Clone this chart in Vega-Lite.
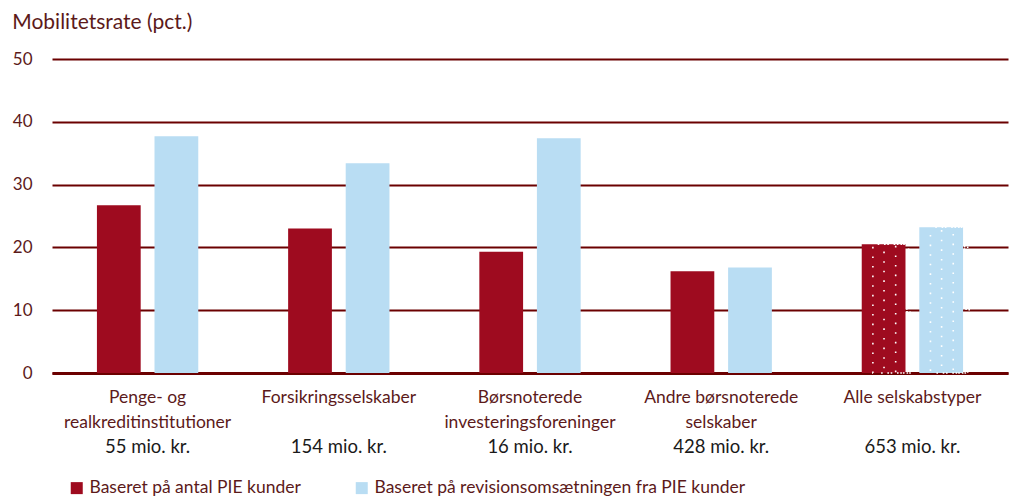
{
  "$schema": "https://vega.github.io/schema/vega-lite/v6.json",
  "width": 956,
  "height": 314,
  "autosize": {"type": "none"},
  "padding": {"left": 52, "top": 59, "right": 8, "bottom": 127},
  "background": "white",
  "title": {
    "text": "Mobilitetsrate (pct.)",
    "anchor": "start",
    "frame": "bounds",
    "fontSize": 21,
    "font": "Lato",
    "fontWeight": "normal",
    "color": "#5C1A1A",
    "offset": 17
  },
  "config": {
    "font": "Lato",
    "view": {"stroke": null}
  },
  "data": {
    "values": [
      {"kategori": "Penge- og\nrealkreditinstitutioner", "beloeb": "55 mio. kr.", "serie": "Baseret på antal PIE kunder", "vaerdi": 26.7},
      {"kategori": "Penge- og\nrealkreditinstitutioner", "beloeb": "55 mio. kr.", "serie": "Baseret på revisionsomsætningen fra PIE kunder", "vaerdi": 37.7},
      {"kategori": "Forsikringsselskaber", "beloeb": "154 mio. kr.", "serie": "Baseret på antal PIE kunder", "vaerdi": 23.0},
      {"kategori": "Forsikringsselskaber", "beloeb": "154 mio. kr.", "serie": "Baseret på revisionsomsætningen fra PIE kunder", "vaerdi": 33.4},
      {"kategori": "Børsnoterede\ninvesteringsforeninger", "beloeb": "16 mio. kr.", "serie": "Baseret på antal PIE kunder", "vaerdi": 19.3},
      {"kategori": "Børsnoterede\ninvesteringsforeninger", "beloeb": "16 mio. kr.", "serie": "Baseret på revisionsomsætningen fra PIE kunder", "vaerdi": 37.4},
      {"kategori": "Andre børsnoterede\nselskaber", "beloeb": "428 mio. kr.", "serie": "Baseret på antal PIE kunder", "vaerdi": 16.2},
      {"kategori": "Andre børsnoterede\nselskaber", "beloeb": "428 mio. kr.", "serie": "Baseret på revisionsomsætningen fra PIE kunder", "vaerdi": 16.8},
      {"kategori": "Alle selskabstyper", "beloeb": "653 mio. kr.", "serie": "Baseret på antal PIE kunder", "vaerdi": 20.5},
      {"kategori": "Alle selskabstyper", "beloeb": "653 mio. kr.", "serie": "Baseret på revisionsomsætningen fra PIE kunder", "vaerdi": 23.2}
    ]
  },
  "encoding": {
    "x": {
      "field": "kategori",
      "type": "nominal",
      "sort": null,
      "title": null,
      "scale": {"paddingInner": 0.47, "paddingOuter": 0.235},
      "axis": {
        "labelExpr": "split(datum.label, '\\n')",
        "labelAngle": 0,
        "labelFontSize": 17.5,
        "labelLineHeight": 25,
        "labelColor": "#5C1A1A",
        "labelPadding": 15,
        "labelLimit": 300,
        "labelBaseline": "top",
        "ticks": false,
        "domainColor": "#6B0000",
        "domainWidth": 3,
        "grid": false
      }
    }
  },
  "layer": [
    {
      "mark": {"type": "bar"},
      "encoding": {
        "xOffset": {"field": "serie", "sort": null, "scale": {"paddingInner": 0.24}},
        "y": {
          "field": "vaerdi",
          "type": "quantitative",
          "title": null,
          "scale": {"domain": [0, 50]},
          "axis": {
            "values": [0, 10, 20, 30, 40, 50],
            "grid": true,
            "gridColor": "#6B0000",
            "gridWidth": 2,
            "domain": false,
            "ticks": false,
            "labelPadding": 20,
            "labelFontSize": 17,
            "labelColor": "#5C1A1A"
          }
        },
        "color": {
          "field": "serie",
          "type": "nominal",
          "sort": null,
          "scale": {"range": ["#9E0B1F", "#B9DDF3"]},
          "legend": {
            "orient": "none",
            "legendX": 16,
            "legendY": 420,
            "direction": "horizontal",
            "title": null,
            "symbolType": "square",
            "symbolSize": 144,
            "symbolStrokeWidth": 0,
            "labelFontSize": 17.5,
            "labelColor": "#5C1A1A",
            "labelOffset": 4,
            "columnPadding": 52,
            "labelLimit": 500
          }
        }
      }
    },
    {
      "transform": [{"filter": "datum.kategori == 'Alle selskabstyper'"}],
      "mark": {"type": "bar", "filled": false, "stroke": "white", "strokeWidth": 1.6, "strokeDash": [1.6, 8], "width": {"band": 0.11}},
      "encoding": {
        "xOffset": {"field": "serie", "sort": null},
        "y": {"field": "vaerdi", "type": "quantitative"}
      }
    },
    {
      "transform": [{"filter": "datum.kategori == 'Alle selskabstyper'"}],
      "mark": {"type": "bar", "filled": false, "stroke": "white", "strokeWidth": 1.6, "strokeDash": [1.6, 8], "strokeDashOffset": 4.8, "width": {"band": 0.33}},
      "encoding": {
        "xOffset": {"field": "serie", "sort": null},
        "y": {"field": "vaerdi", "type": "quantitative"}
      }
    },
    {
      "transform": [{"filter": "datum.kategori == 'Alle selskabstyper'"}],
      "mark": {"type": "bar", "filled": false, "stroke": "white", "strokeWidth": 1.6, "strokeDash": [1.6, 8], "width": {"band": 0.56}},
      "encoding": {
        "xOffset": {"field": "serie", "sort": null},
        "y": {"field": "vaerdi", "type": "quantitative"}
      }
    },
    {
      "transform": [{"filter": "datum.kategori == 'Alle selskabstyper'"}],
      "mark": {"type": "bar", "filled": false, "stroke": "white", "strokeWidth": 1.6, "strokeDash": [1.6, 8], "strokeDashOffset": 4.8, "width": {"band": 0.78}},
      "encoding": {
        "xOffset": {"field": "serie", "sort": null},
        "y": {"field": "vaerdi", "type": "quantitative"}
      }
    },
    {
      "transform": [{"filter": "datum.serie == 'Baseret på antal PIE kunder'"}],
      "mark": {"type": "text", "fontSize": 18.5, "color": "#1A1A1A", "baseline": "middle"},
      "encoding": {
        "y": {"datum": -11.8, "type": "quantitative"},
        "text": {"field": "beloeb"}
      }
    }
  ]
}
